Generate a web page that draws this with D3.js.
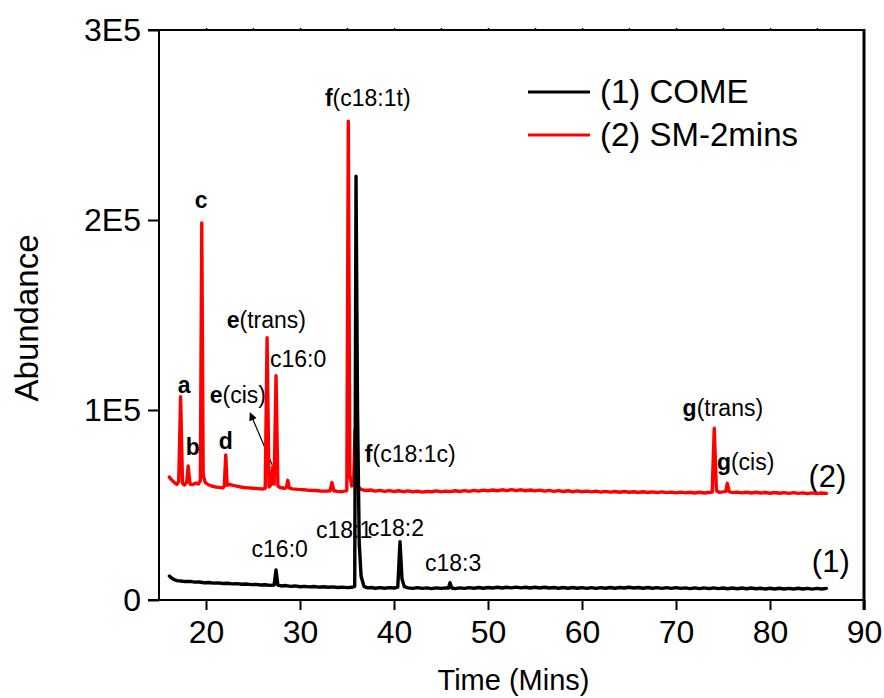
<!DOCTYPE html>
<html><head><meta charset="utf-8">
<script src="https://cdn.jsdelivr.net/npm/d3@7"></script>
<style>
html,body{margin:0;padding:0;background:#fff;}
svg{display:block;font-family:"Liberation Sans",Arial,Helvetica,sans-serif;}
</style></head><body>
<svg id="chart" width="884" height="698"></svg>
<script>
// Axis ticks
const xMajorTicks = [20, 30, 40, 50, 60, 70, 80, 90];
const xMinorTicks = [15, 25, 35, 45, 55, 65, 75, 85];
const yMajorTicks = [0, 100000, 200000, 300000];
const yTickLabels = ["0", "1E5", "2E5", "3E5"];
const yMinorTicks = [50000, 150000, 250000];

// Series
const seriesNames = ["(1) COME", "(2) SM-2mins"];
const seriesColors = ["#000000", "#ff0000"];

// (1) COME chromatogram: retention time (min) and abundance
const comeTime = [16.1, 16.3, 16.6, 16.9, 17.3, 17.8, 18.3, 18.8, 19.3, 19.8, 20.3, 20.8, 21.3, 21.8, 22.3, 22.8, 23.3, 23.8, 24.3, 24.8, 25.3, 25.8, 26.3, 26.8, 27.25, 27.45, 27.65, 28.0, 28.5, 29.0, 29.5, 30.0, 30.5, 31.0, 31.5, 32.0, 32.5, 33.0, 33.5, 34.0, 34.5, 35.0, 35.5, 35.82, 35.96, 36.12, 36.3, 36.5, 36.8, 37.2, 37.6, 38.0, 38.5, 39.0, 39.5, 40.0, 40.4, 40.64, 40.85, 41.1, 41.5, 42.0, 42.5, 43.0, 43.5, 44.0, 44.5, 45.0, 45.5, 45.8, 45.96, 46.15, 46.5, 47, 47.5, 48, 48.5, 49, 49.5, 50, 50.5, 51, 51.5, 52, 52.5, 53, 53.5, 54, 54.5, 55, 55.5, 56, 56.5, 57, 57.5, 58, 58.5, 59, 59.5, 60, 60.5, 61, 61.5, 62, 62.5, 63, 63.5, 64, 64.5, 65, 65.5, 66, 66.5, 67, 67.5, 68, 68.5, 69, 69.5, 70, 70.5, 71, 71.5, 72, 72.5, 73, 73.5, 74, 74.5, 75, 75.5, 76, 76.5, 77, 77.5, 78, 78.5, 79, 79.5, 80, 80.5, 81, 81.5, 82, 82.5, 83, 83.5, 84, 84.5, 85, 85.5, 86];
const comeAbund = [12600, 11700, 10800, 10200, 10000, 9700, 9800, 9400, 9500, 9100, 9200, 8900, 9000, 8700, 8800, 8500, 8600, 8300, 8400, 8100, 8200, 7900, 8000, 7700, 7900, 15800, 7800, 7400, 7600, 7200, 7400, 7000, 7200, 6900, 7100, 6800, 7000, 6700, 6900, 6600, 6800, 6500, 6700, 7200, 223000, 100000, 30000, 12500, 7200, 6400, 6600, 6200, 6500, 6200, 6500, 6300, 6800, 30700, 11000, 7000, 6400, 6100, 6500, 6100, 6400, 6000, 6400, 6100, 6400, 6300, 9100, 6300, 6000, 6400, 6100, 6500, 6200, 6600, 6200, 6600, 6300, 6700, 6300, 6700, 6400, 6800, 6400, 6700, 6300, 6700, 6300, 6700, 6300, 6600, 6200, 6600, 6200, 6600, 6200, 6500, 6100, 6500, 6100, 6500, 6200, 6600, 6200, 6600, 6300, 6700, 6300, 6600, 6200, 6600, 6200, 6500, 6100, 6500, 6100, 6500, 6100, 6400, 6000, 6400, 6000, 6400, 6000, 6400, 6000, 6300, 5900, 6300, 5900, 6300, 5900, 6300, 5900, 6200, 5800, 6200, 5800, 6200, 5800, 6100, 5800, 6200, 5800, 6100, 5700, 6100, 5800, 6100];

// (2) SM-2mins chromatogram: retention time (min) and abundance
const smTime = [16.1, 16.3, 16.6, 16.9, 17.1, 17.3, 17.5, 17.7, 17.95, 18.1, 18.3, 18.6, 18.9, 19.2, 19.4, 19.55, 19.7, 19.9, 20.2, 20.6, 21.0, 21.4, 21.8, 21.95, 22.1, 22.25, 22.5, 23.0, 23.5, 24.0, 24.5, 25.0, 25.5, 26.0, 26.3, 26.5, 26.7, 26.9, 27.1, 27.25, 27.45, 27.65, 27.9, 28.3, 28.55, 28.7, 28.85, 29.2, 29.8, 30.4, 31.0, 31.6, 32.2, 32.8, 33.2, 33.4, 33.6, 34.0, 34.5, 34.98, 35.14, 35.3, 35.5, 35.7, 35.85, 36.05, 36.5, 37, 37.5, 38, 38.5, 39, 39.5, 40, 40.5, 41, 41.5, 42, 42.5, 43, 43.5, 44, 44.5, 45, 45.5, 46, 46.5, 47, 47.5, 48, 48.5, 49, 49.5, 50, 50.5, 51, 51.5, 52, 52.5, 53, 53.5, 54, 54.5, 55, 55.5, 56, 56.5, 57, 57.5, 58, 58.5, 59, 59.5, 60, 60.5, 61, 61.5, 62, 62.5, 63, 63.5, 64, 64.5, 65, 65.5, 66, 66.5, 67, 67.5, 68, 68.5, 69, 69.5, 70, 70.5, 71, 71.5, 72, 72.5, 73, 73.5, 73.85, 74.07, 74.3, 74.6, 75.0, 75.3, 75.46, 75.65, 76, 76.5, 77, 77.5, 78, 78.5, 79, 79.5, 80, 80.5, 81, 81.5, 82, 82.5, 83, 83.5, 84, 84.5, 85, 85.5, 86];
const smAbund = [64700, 63500, 62000, 60800, 62500, 107000, 61500, 60500, 62000, 70500, 61000, 60800, 61500, 61000, 63000, 198500, 66000, 62000, 60800, 60000, 59500, 59300, 59000, 60000, 76300, 60500, 60800, 60200, 59700, 59200, 59000, 58800, 58600, 58400, 58800, 138000, 59500, 60500, 70000, 61000, 118000, 60000, 59200, 58800, 59200, 63000, 59000, 58500, 58200, 58000, 57700, 57600, 57400, 57300, 57500, 61800, 57500, 57200, 57000, 57600, 252000, 66000, 60000, 60500, 89500, 60000, 58200, 57600, 57900, 57300, 57700, 57200, 57600, 57100, 57500, 57000, 57400, 56900, 57300, 56800, 57200, 57000, 57400, 56900, 57300, 57000, 57500, 57100, 57600, 57200, 57700, 57300, 57800, 57400, 57900, 57500, 58000, 57600, 58100, 57600, 58000, 57500, 57900, 57400, 57800, 57300, 57700, 57200, 57600, 57100, 57500, 57000, 57400, 57000, 57300, 56900, 57300, 56800, 57200, 56800, 57100, 56700, 57100, 56700, 57000, 56600, 57000, 56600, 56900, 56500, 56900, 56500, 56800, 56400, 56800, 56400, 56700, 56300, 56700, 56300, 56600, 56800, 90400, 57500, 56700, 56900, 57200, 61400, 57000, 56500, 56800, 56400, 56700, 56300, 56700, 56300, 56600, 56200, 56600, 56200, 56500, 56100, 56500, 56100, 56400, 56000, 56400, 56000, 56300, 56100];

// Peak annotations: text pieces [bold part, regular part], anchor (time, abundance) of the text start/baseline
const peakLabels = [
  {bold: "a", rest: "", t: 17.0, v: 108900},
  {bold: "b", rest: "", t: 17.85, v: 76300},
  {bold: "c", rest: "", t: 18.8, v: 206300},
  {bold: "d", rest: "", t: 21.35, v: 79500},
  {bold: "e", rest: "(trans)", t: 22.2, v: 143200},
  {bold: "", rest: "c16:0", t: 26.8, v: 122600},
  {bold: "e", rest: "(cis)", t: 20.4, v: 103700},
  {bold: "f", rest: "(c18:1t)", t: 32.65, v: 260000},
  {bold: "f", rest: "(c18:1c)", t: 36.9, v: 72600},
  {bold: "g", rest: "(trans)", t: 70.7, v: 96800},
  {bold: "g", rest: "(cis)", t: 74.35, v: 68400},
  {bold: "", rest: "c16:0", t: 24.85, v: 22600},
  {bold: "", rest: "c18:1", t: 31.7, v: 32600},
  {bold: "", rest: "c18:2", t: 37.2, v: 33700},
  {bold: "", rest: "c18:3", t: 43.3, v: 15300}
];
// Trace identifiers at the right end of each trace
const traceTags = [
  {text: "(2)", t: 84.1, v: 59500},
  {text: "(1)", t: 84.45, v: 14700}
];
// Arrow from the e(cis) peak up to its label: [from (time, abundance), to (time, abundance)]
const eCisArrow = [[27.05, 71000], [24.7, 98400]];

const svg = d3.select("#chart");
const W = 884, H = 698;
const margin = {left: 159, right: W - 864, top: 30, bottom: H - 600};

const x = d3.scaleLinear().domain([15, 90]).range([margin.left, W - margin.right]);
const y = d3.scaleLinear().domain([0, 300000]).range([H - margin.bottom, margin.top]);

const fontFam = '"Liberation Sans", Arial, Helvetica, sans-serif';

// Axes
const gx = svg.append("g").attr("transform", `translate(0,${y(0)})`);
gx.call(d3.axisBottom(x).tickValues(xMinorTicks).tickSize(5).tickFormat(""));
gx.call(d3.axisBottom(x).tickValues(xMajorTicks).tickSize(10).tickFormat(d3.format("d")).tickPadding(10));
gx.selectAll(".domain").remove();
gx.selectAll(".tick line").attr("stroke", "#000").attr("stroke-width", 2);
gx.selectAll(".tick text").attr("font-size", 32).attr("font-family", fontFam).attr("fill", "#000");

const gy = svg.append("g").attr("transform", `translate(${x(15)},0)`);
gy.call(d3.axisLeft(y).tickValues(yMinorTicks).tickSize(5).tickFormat(""));
gy.call(d3.axisLeft(y).tickValues(yMajorTicks).tickSize(11).tickFormat((d, i) => yTickLabels[i]).tickPadding(7));
gy.selectAll(".domain").remove();
gy.selectAll(".tick line").attr("stroke", "#000").attr("stroke-width", 2);
gy.selectAll(".tick text").attr("font-size", 32).attr("font-family", fontFam).attr("fill", "#000");

const gt = svg.append("g").attr("transform", `translate(0,${y(300000)})`);
gt.call(d3.axisTop(x).tickValues(xMajorTicks.concat(xMinorTicks).filter(d => d > 15 && d < 90)).tickSize(2).tickFormat(""));
gt.selectAll(".domain").remove();
gt.selectAll(".tick line").attr("stroke", "#000").attr("stroke-width", 1.5);

// Frame
const frame = svg.append("g").attr("stroke", "#000").attr("fill", "none");
frame.append("line").attr("x1", x(15)).attr("x2", x(15)).attr("y1", y(300000) - 1).attr("y2", y(0) + 1).attr("stroke-width", 2);
frame.append("line").attr("x1", x(15) - 11).attr("x2", x(90)).attr("y1", y(0)).attr("y2", y(0)).attr("stroke-width", 2);
frame.append("line").attr("x1", x(15) - 11).attr("x2", x(90)).attr("y1", y(300000)).attr("y2", y(300000)).attr("stroke-width", 2);
frame.append("line").attr("x1", x(90)).attr("x2", x(90)).attr("y1", y(300000) - 1).attr("y2", y(0) + 10).attr("stroke-width", 3);

// Axis titles
svg.append("text").attr("x", (x(15) + x(90)) / 2 + 2).attr("y", 690)
  .attr("text-anchor", "middle").attr("font-size", 29).attr("font-family", fontFam).text("Time (Mins)");
svg.append("text").attr("transform", `translate(38,${(y(0) + y(300000)) / 2 + 3}) rotate(-90)`)
  .attr("text-anchor", "middle").attr("font-size", 33).attr("font-family", fontFam).text("Abundance");

// Peak labels
const labelG = svg.append("g").attr("font-family", fontFam).attr("font-size", 23).attr("fill", "#000");
peakLabels.forEach(p => {
  const t = labelG.append("text").attr("x", x(p.t)).attr("y", y(p.v));
  if (p.bold) t.append("tspan").attr("font-weight", "bold").text(p.bold);
  if (p.rest) t.append("tspan").text(p.rest);
});
traceTags.forEach(p => {
  svg.append("text").attr("x", x(p.t)).attr("y", y(p.v)).attr("font-family", fontFam)
    .attr("font-size", 31).text(p.text);
});

// Arrow
svg.append("defs").append("marker").attr("id", "arrowHead")
  .attr("viewBox", "0 0 10 10").attr("refX", 9).attr("refY", 5)
  .attr("markerWidth", 10).attr("markerHeight", 8).attr("markerUnits", "userSpaceOnUse")
  .attr("orient", "auto")
  .append("path").attr("d", "M0,0 L10,5 L0,10 Z").attr("fill", "#000");
svg.append("line")
  .attr("x1", x(eCisArrow[0][0])).attr("y1", y(eCisArrow[0][1]))
  .attr("x2", x(eCisArrow[1][0])).attr("y2", y(eCisArrow[1][1]))
  .attr("stroke", "#000").attr("stroke-width", 1.2).attr("marker-end", "url(#arrowHead)");

// Traces
const line = d3.line().x(d => x(d[0])).y(d => y(d[1]));
const smData = smTime.map((t, i) => [t, smAbund[i]]);
const comeData = comeTime.map((t, i) => [t, comeAbund[i]]);
svg.append("path").datum(smData).attr("d", line).attr("fill", "none")
  .attr("stroke", seriesColors[1]).attr("stroke-width", 3.4).attr("stroke-linejoin", "round").attr("stroke-linecap", "round");
svg.append("path").datum(comeData).attr("d", line).attr("fill", "none")
  .attr("stroke", seriesColors[0]).attr("stroke-width", 3.4).attr("stroke-linejoin", "round").attr("stroke-linecap", "round");

// Legend
const legend = svg.append("g").attr("font-family", fontFam).attr("font-size", 33);
seriesNames.forEach((name, i) => {
  const ly = 92 + i * 43;
  legend.append("line").attr("x1", 528).attr("x2", 590).attr("y1", ly).attr("y2", ly)
    .attr("stroke", seriesColors[i]).attr("stroke-width", 3);
  legend.append("text").attr("x", 600).attr("y", ly + 11).text(name);
});
</script>
</body></html>
